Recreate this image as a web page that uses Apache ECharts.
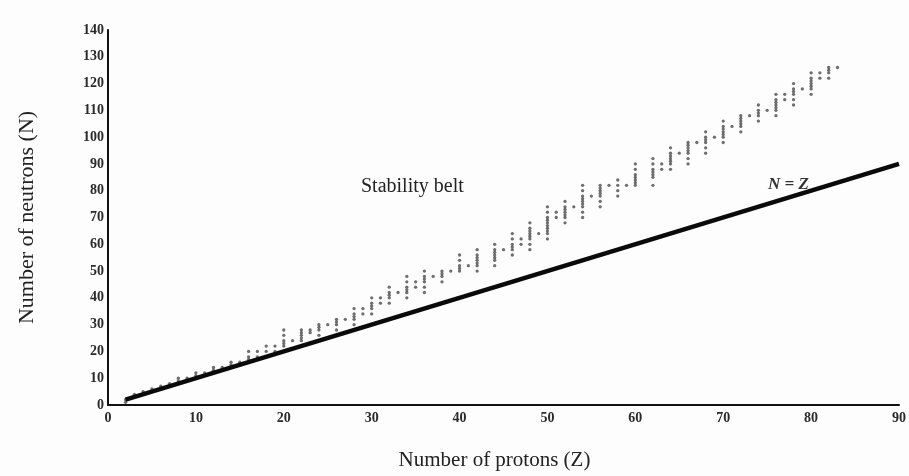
<!DOCTYPE html>
<html>
<head>
<meta charset="utf-8">
<script src="https://cdn.jsdelivr.net/npm/echarts@6/dist/echarts.min.js"></script>
<style>
html,body{margin:0;padding:0;background:#fdfdfd;}
#chart{width:909px;height:476px;}
</style>
</head>
<body>
<div id="chart"></div>
<script>
// Proton numbers (Z) of the stable nuclides shown
const protonNumbers = [2,3,4,5,6,7,8,9,10,11,12,13,14,15,16,17,18,19,20,21,22,23,24,25,26,27,28,29,30,31,32,33,34,35,36,37,38,39,40,41,42,44,45,46,47,48,49,50,51,52,53,54,55,56,57,58,59,60,62,63,64,65,66,67,68,69,70,71,72,73,74,75,76,77,78,79,80,81,82,83];
// Neutron numbers (N) for each Z above
const neutronCounts = [
  [1,2],[3,4],[5],[5,6],[6,7],[7,8],[8,9,10],[10],[10,11,12],[12],
  [12,13,14],[14],[14,15,16],[16],[16,17,18,20],[18,20],[18,20,22],[20,22],[20,22,23,24,26,28],[24],
  [24,25,26,27,28],[27,28],[26,28,29,30],[30],[28,30,31,32],[32],[30,32,33,34,36],[34,36],[34,36,37,38,40],[38,40],
  [38,40,41,42,44],[42],[40,42,43,44,46,48],[44,46],[42,44,46,47,48,50],[48],[46,48,49,50],[50],[50,51,52,54,56],[52],
  [50,52,53,54,55,56,58],[52,54,55,56,57,58,60],[58],[56,58,59,60,62,64],[60,62],[58,60,62,63,64,65,66,68],[64],[62,64,65,66,67,68,69,70,72,74],[70,72],[68,70,71,72,73,74,76],
  [74],[70,72,74,75,76,77,78,80,82],[78],[74,76,78,79,80,81,82],[82],[78,80,82,84],[82],[82,83,84,85,86,88,90],[82,85,86,87,88,90,92],[88,90],
  [88,90,91,92,93,94,96],[94],[90,92,94,95,96,97,98],[98],[94,96,98,99,100,102],[100],[98,100,101,102,103,104,106],[104],[102,104,105,106,107,108],[108],
  [106,108,109,110,112],[110],[108,110,111,112,113,114,116],[114,116],[112,114,116,117,118,120],[118],[116,118,119,120,121,122,124],[122,124],[122,124,125,126],[126]
];
// N = Z reference line endpoints
const lineZ = [2, 90];
const lineN = [2, 90];
// Axis ranges / tick spacing
const xTicks = [0,10,20,30,40,50,60,70,80,90];
const yTicks = [0,10,20,30,40,50,60,70,80,90,100,110,120,130,140];

const points = [];
protonNumbers.forEach((z, i) => {
  neutronCounts[i].forEach(n => points.push([z, n]));
});
const linePts = lineZ.map((z, i) => [z, lineN[i]]);

const serif = '"Liberation Serif", "DejaVu Serif", serif';
const chart = echarts.init(document.getElementById('chart'), null, {renderer: 'canvas'});
chart.setOption({
  backgroundColor: '#fdfdfd',
  animation: false,
  grid: {left: 108, right: 6, top: 30, bottom: 69},
  xAxis: {
    type: 'value',
    min: xTicks[0], max: xTicks[xTicks.length - 1], interval: 10,
    name: 'Number of protons (Z)',
    nameLocation: 'middle',
    nameGap: 45,
    nameTextStyle: {fontFamily: serif, fontSize: 21, color: '#222', padding: [0, 18, 0, 0]},
    axisLine: {lineStyle: {color: '#111', width: 2}},
    axisTick: {show: false},
    splitLine: {show: false},
    axisLabel: {fontFamily: serif, fontSize: 14, fontWeight: 'bold', color: '#2a2a2a', margin: 6}
  },
  yAxis: {
    type: 'value',
    min: yTicks[0], max: yTicks[yTicks.length - 1], interval: 10,
    name: 'Number of neutrons (N)',
    nameLocation: 'middle',
    nameGap: 70,
    nameRotate: 90,
    nameTextStyle: {fontFamily: serif, fontSize: 22, color: '#222'},
    axisLine: {show: true, lineStyle: {color: '#111', width: 2}},
    axisTick: {show: false},
    splitLine: {show: false},
    axisLabel: {fontFamily: serif, fontSize: 14, fontWeight: 'bold', color: '#2a2a2a', margin: 4}
  },
  series: [
    {
      type: 'scatter',
      data: points,
      symbol: 'circle',
      symbolSize: 3.3,
      itemStyle: {color: '#4a4a4a'},
      z: 2
    },
    {
      type: 'line',
      data: linePts,
      symbol: 'none',
      lineStyle: {color: '#0a0a0a', width: 4.5},
      z: 3
    }
  ],
  graphic: [
    {type: 'text', left: 361, top: 177, style: {text: 'Stability belt', font: '20px ' + serif, fill: '#222'}},
    {type: 'text', left: 768, top: 176, style: {text: 'N = Z', font: 'italic bold 17px ' + serif, fill: '#333'}}
  ]
});
</script>
</body>
</html>
